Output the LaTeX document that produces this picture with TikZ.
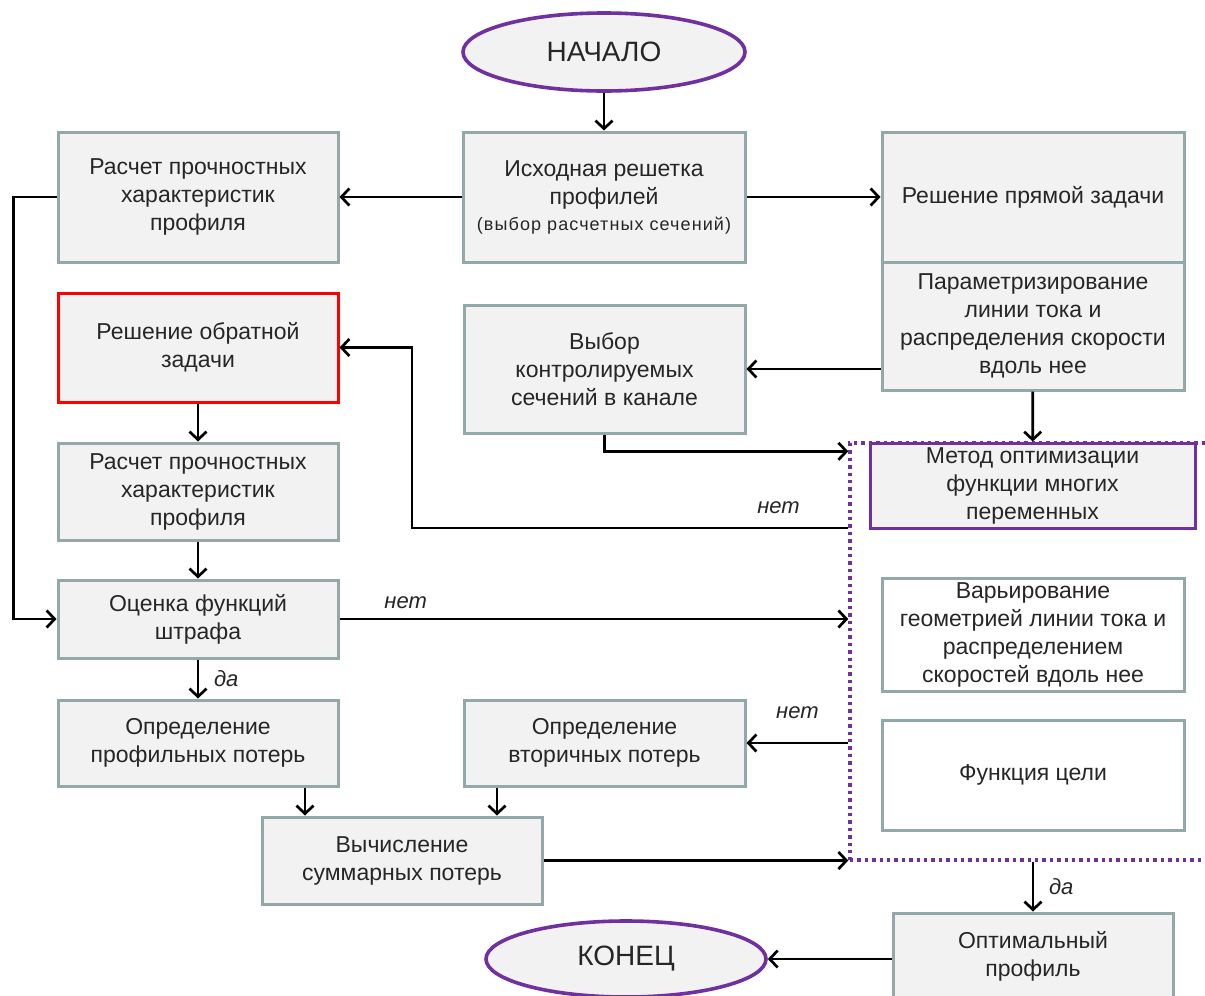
\documentclass[tikz,border=0pt]{standalone}
\usepackage{fontspec}
\setmainfont{Liberation Sans}
\usetikzlibrary{shapes.geometric,arrows.meta}

\definecolor{boxfill}{HTML}{F2F2F2}
\definecolor{boxline}{HTML}{93A8A9}
\definecolor{lila}{HTML}{7030A0}

\begin{document}
\begin{tikzpicture}[x=0.5pt,y=-0.5pt,
    >={Straight Barb[length=4pt,width=8.5pt]},
    every node/.style={font=\fontsize{11.5}{14}\selectfont,text=black!85},
    blok/.style={rectangle,draw=boxline,fill=boxfill,line width=1.5pt,align=center,inner sep=2pt},
    term/.style={ellipse,draw=lila,fill=boxfill,line width=1.8pt,inner sep=0pt,font=\fontsize{14}{16}\selectfont},
    pfeil/.style={->,line width=1.35pt,black},
    jn/.style={font=\fontsize{11}{13}\selectfont\itshape}]
\useasboundingbox[fill=white] (0,0) rectangle (1205,996);

% zone of the optimisation loop
\node[draw=lila,line width=1.7pt,dotted,minimum width=182.5pt,minimum height=208.5pt,inner sep=0pt](opt) at (1032.5,651.5) {};

\node[term,minimum width=141pt,minimum height=39pt](start) at (604,52) {НАЧАЛО};
\node[blok,minimum width=141pt,minimum height=65pt](ishod) at (604,197) {Исходная решетка\\профилей\\[-1pt]{\fontsize{9}{12}\selectfont\addfontfeature{LetterSpace=6}(выбор расчетных сечений)}};
\node[blok,minimum width=140pt,minimum height=65pt](rasch1) at (198,197) {Расчет прочностных\\характеристик\\профиля};
\node[blok,minimum width=151pt,minimum height=65pt](pryam) at (1033,197) {Решение прямой задачи};
\node[blok,minimum width=151pt,minimum height=64pt](param) at (1033,326) {Параметризирование\\линии тока и\\распределения скорости\\вдоль нее};
\node[blok,minimum width=140.5pt,minimum height=64pt](vybor) at (604.5,369) {Выбор\\контролируемых\\сечений в канале};
\node[blok,draw=red,minimum width=140pt,minimum height=54.5pt](obr) at (198,347.5) {Решение обратной\\задачи};
\node[blok,minimum width=140pt,minimum height=48.5pt](rasch2) at (198,491.5) {Расчет прочностных\\характеристик\\профиля};
\node[blok,minimum width=140pt,minimum height=39pt](ocenka) at (198,619) {Оценка функций\\штрафа};
\node[blok,draw=lila,minimum width=162.5pt,minimum height=42.5pt](metod) at (1032.5,485.5) {Метод оптимизации\\функции многих\\переменных};
\node[blok,fill=white,minimum width=151pt,minimum height=55pt](varir) at (1033,635) {Варьирование\\геометрией линии тока и\\распределением\\скоростей вдоль нее};
\node[blok,fill=white,minimum width=151pt,minimum height=55pt](cel) at (1033,775) {Функция цели};
\node[blok,minimum width=140pt,minimum height=43pt](prof) at (198,743) {Определение\\профильных потерь};
\node[blok,minimum width=140.5pt,minimum height=43pt](vtor) at (604.5,743) {Определение\\вторичных потерь};
\node[blok,minimum width=140pt,minimum height=43.5pt](vych) at (402,860.5) {Вычисление\\суммарных потерь};
\node[blok,minimum width=140pt,minimum height=43.5pt](optim) at (1033,956.5) {Оптимальный\\профиль};
\node[term,minimum width=140pt,minimum height=38pt](konec) at (626,959) {КОНЕЦ};

\coordinate (back) at (412,528);

\draw[pfeil](start)--(ishod);
\draw[pfeil](ishod)--(rasch1);
\draw[pfeil](ishod)--(pryam);
\draw[pfeil](rasch1.west)--++(-43,0)|-(ocenka.west);
\draw[pfeil](param.west|-vybor.east)--(vybor.east);
\draw[pfeil](param)--(metod);
\draw[pfeil](vybor.south)|-([yshift=-5pt]opt.north west);
\draw[pfeil](opt.west|-back)--node[jn,pos=0.16,above=3pt]{нет}(back)|-(obr.east);
\draw[pfeil](obr)--(rasch2);
\draw[pfeil](rasch2)--(ocenka);
\draw[pfeil](ocenka.east)--node[jn,pos=0.13,above=1pt]{нет}(ocenka.east-|opt.west);
\draw[pfeil](ocenka)--node[jn,right=4pt]{да}(prof);
\draw[pfeil](opt.west|-vtor.east)--node[jn,pos=0.5,above=8pt]{нет}(vtor.east);
\draw[pfeil](prof.south-|305,0)--(vych.north-|305,0);
\draw[pfeil](vtor.south-|497,0)--(vych.north-|497,0);
\draw[pfeil](vych.east)--(vych.east-|opt.west);
\draw[pfeil](opt.south-|optim.north)--node[jn,right=4pt]{да}(optim.north);
\draw[pfeil](optim.west|-konec.east)--(konec.east);
\end{tikzpicture}
\end{document}
